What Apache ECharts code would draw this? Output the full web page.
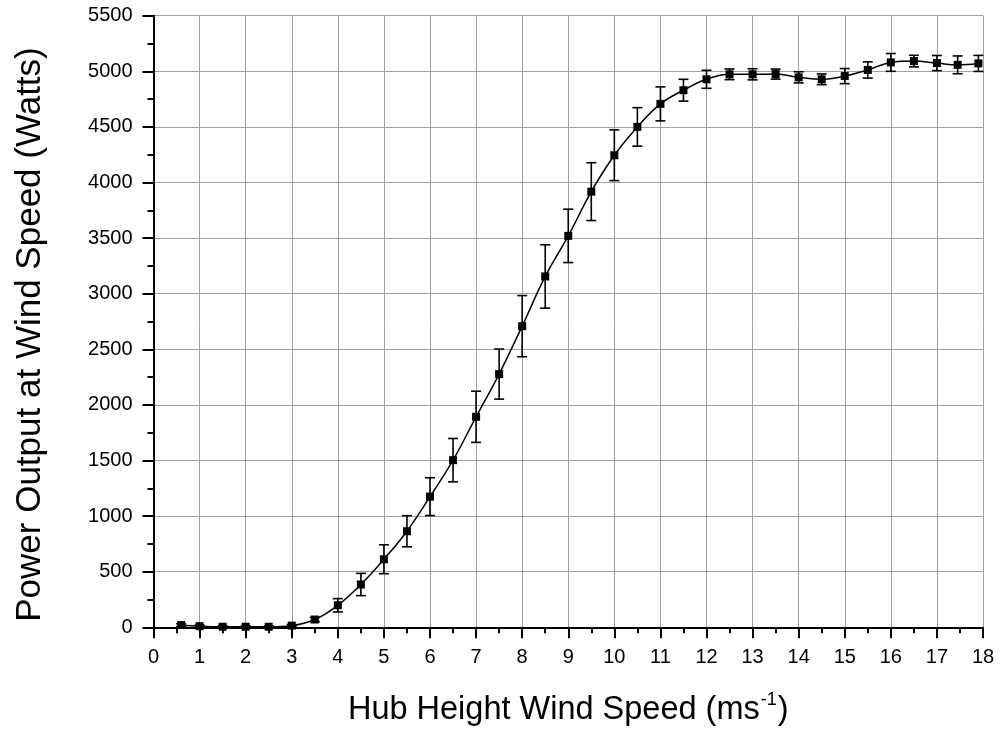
<!DOCTYPE html>
<html>
<head>
<meta charset="utf-8">
<script src="https://cdn.jsdelivr.net/npm/echarts@6/dist/echarts.min.js"></script>
<style>html,body{margin:0;padding:0;background:#fff}#c{width:1000px;height:730px}</style>
</head>
<body>
<div id="c"></div>
<script>
var windSpeed = [0.6, 1, 1.5, 2, 2.5, 3, 3.5, 4, 4.5, 5, 5.5, 6, 6.5, 7, 7.5, 8, 8.5, 9, 9.5, 10, 10.5, 11, 11.5, 12, 12.5, 13, 13.5, 14, 14.5, 15, 15.5, 16, 16.5, 17, 17.45, 17.9];
var power = [20, 10, 5, 5, 5, 15, 70, 198, 385, 612, 864, 1175, 1503, 1893, 2277, 2708, 3155, 3520, 3918, 4245, 4500, 4707, 4830, 4928, 4973, 4973, 4975, 4946, 4928, 4957, 5012, 5080, 5092, 5074, 5058, 5071];
var errorBar = [12, 10, 8, 8, 8, 10, 20, 60, 100, 130, 140, 170, 195, 230, 225, 275, 285, 240, 260, 228, 173, 153, 98, 81, 48, 50, 45, 50, 48, 68, 73, 80, 52, 68, 80, 72];
var yTicks = [0, 500, 1000, 1500, 2000, 2500, 3000, 3500, 4000, 4500, 5000, 5500];
var xTicks = [0, 1, 2, 3, 4, 5, 6, 7, 8, 9, 10, 11, 12, 13, 14, 15, 16, 17, 18];

var lineData = windSpeed.map(function (x, i) { return [x, power[i]]; });
var errData = windSpeed.map(function (x, i) { return [x, power[i] - errorBar[i], power[i] + errorBar[i]]; });

var font = 'Liberation Sans, Arial, sans-serif';
var chart = echarts.init(document.getElementById('c'), null, {renderer: 'canvas'});
chart.setOption({
  animation: false,
  backgroundColor: '#fff',
  grid: {left: 153.5, right: 17, top: 15.7, bottom: 102.7, containLabel: false, outerBoundsMode: 'none'},
  xAxis: {
    type: 'value',
    min: xTicks[0], max: xTicks[xTicks.length - 1], interval: 1,
    name: '{a|Hub Height Wind Speed (ms}{b|-1}{a|)}',
    nameLocation: 'middle', nameGap: 64, nameMoveOverlap: false,
    nameTextStyle: {
      rich: {
        a: {fontSize: 32.5, fontFamily: font, color: '#000', lineHeight: 38},
        b: {fontSize: 18, fontFamily: font, color: '#000', verticalAlign: 'top', lineHeight: 30, padding: [0, 1, 0, 1]}
      }
    },
    axisLine: {show: true, onZero: false, lineStyle: {color: '#000', width: 2}},
    axisTick: {show: true, length: 11, lineStyle: {color: '#000', width: 2}},
    minorTick: {show: true, splitNumber: 2, length: 6, lineStyle: {color: '#000', width: 2}},
    axisLabel: {fontSize: 20, fontFamily: font, color: '#000', margin: 20, formatter: function (v) { return String(v); }},
    splitLine: {show: true, lineStyle: {color: '#a0a0a0', width: 1}}
  },
  yAxis: {
    type: 'value',
    min: yTicks[0], max: yTicks[yTicks.length - 1], interval: 500,
    name: 'Power Output at Wind Speed (Watts)',
    nameLocation: 'middle', nameGap: 106, nameMoveOverlap: false,
    nameTextStyle: {fontSize: 35, fontFamily: font, color: '#000', padding: [0, 26, 0, 0]},
    axisLine: {show: true, onZero: false, lineStyle: {color: '#000', width: 2}},
    axisTick: {show: true, length: 11, lineStyle: {color: '#000', width: 2}},
    minorTick: {show: true, splitNumber: 2, length: 6, lineStyle: {color: '#000', width: 2}},
    axisLabel: {fontSize: 20, fontFamily: font, color: '#000', margin: 21, formatter: function (v) { return String(v); }},
    splitLine: {show: true, lineStyle: {color: '#a0a0a0', width: 1}}
  },
  series: [
    {
      type: 'custom',
      data: errData,
      z: 3,
      renderItem: function (params, api) {
        var x = api.value(0);
        var lo = api.coord([x, api.value(1)]);
        var hi = api.coord([x, api.value(2)]);
        var w = 5;
        var st = {stroke: '#000', lineWidth: 1.6};
        return {
          type: 'group',
          children: [
            {type: 'line', shape: {x1: lo[0], y1: lo[1], x2: hi[0], y2: hi[1]}, style: st},
            {type: 'line', shape: {x1: lo[0] - w, y1: lo[1], x2: lo[0] + w, y2: lo[1]}, style: st},
            {type: 'line', shape: {x1: hi[0] - w, y1: hi[1], x2: hi[0] + w, y2: hi[1]}, style: st}
          ]
        };
      }
    },
    {
      type: 'line',
      data: lineData,
      smooth: 0.4,
      symbol: 'rect',
      symbolSize: 8,
      showAllSymbol: true,
      z: 4,
      lineStyle: {color: '#000', width: 1.5},
      itemStyle: {color: '#000'}
    }
  ]
});
</script>
</body>
</html>
